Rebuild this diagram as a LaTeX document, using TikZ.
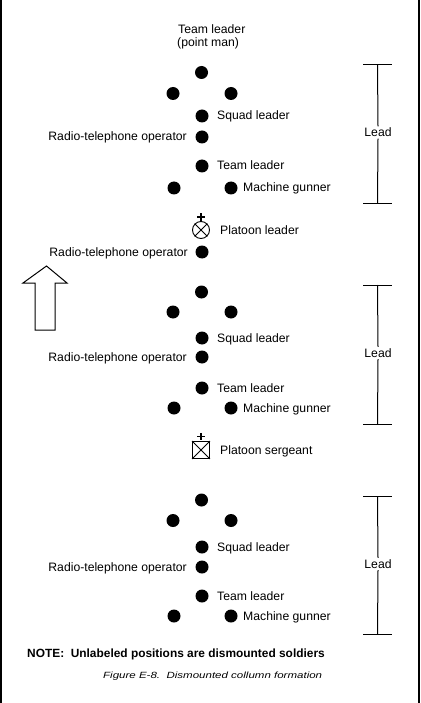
\documentclass[tikz,border=0pt]{standalone}
\usepackage{fontspec}
\setmainfont{Liberation Sans}
\begin{document}
\begin{tikzpicture}[x=1pt,y=-1pt,
  dot/.style={circle,fill=black,inner sep=0pt,minimum size=13pt},
  lbl/.style={font=\fontsize{12.2}{14}\selectfont,inner sep=0pt},
  rlbl/.style={lbl,anchor=base west},
  llbl/.style={lbl,anchor=base east},
  sym/.style={line width=0.9pt},
  plus/.style={line width=1.8pt},
  bar/.style={line width=1pt},
  leadlbl/.style={lbl,fill=white,inner sep=1.5pt}
  ]
\useasboundingbox (0,0) rectangle (420,703);
\fill (0,0) rectangle (2.3,703);
\fill (417.6,0) rectangle (420,703);

% ---------- Squad 1 ----------
\node[rlbl] (tl0) at (178,34) {Team leader};
\node[rlbl] (pm0) at (177,47) {(point man)};
\node[dot] (a1) at (201.5,72.5) {};
\node[dot] (a2) at (173,93.5) {};
\node[dot] (a3) at (231,93.5) {};
\node[dot] (a4) at (202,116) {};
\node[rlbl] (a4l) at (217,120) {Squad leader};
\node[dot] (a5) at (202,137) {};
\node[llbl] (a5l) at (187,141) {Radio-telephone operator};
\node[dot] (a6) at (202,166) {};
\node[rlbl] (a6l) at (217,170) {Team leader};
\node[dot] (a7) at (174,188) {};
\node[dot] (a8) at (231,188) {};
\node[rlbl] (a8l) at (243,192) {Machine gunner};

% ---------- Platoon leader ----------
\node[draw,circle,sym,minimum size=17pt,inner sep=0pt] (pl) at (201,230) {};
\draw[sym] (pl.north west) -- (pl.south east) (pl.north east) -- (pl.south west);
\coordinate (plp) at ([yshift=4pt]pl.north);
\draw[plus] ([yshift=3.8pt]plp) -- ([yshift=-3.8pt]plp) ([xshift=-3.8pt]plp) -- ([xshift=3.8pt]plp);
\node[rlbl] (pll) at (220,234) {Platoon leader};
\node[dot] (plr) at (202,252) {};
\node[llbl] (plrl) at (188,256) {Radio-telephone operator};

% ---------- Squad 2 ----------
\node[dot] (b1) at (201.5,292) {};
\node[dot] (b2) at (173,312) {};
\node[dot] (b3) at (231,312) {};
\node[dot] (b4) at (202,338) {};
\node[rlbl] (b4l) at (217,342) {Squad leader};
\node[dot] (b5) at (202,357) {};
\node[llbl] (b5l) at (187,361) {Radio-telephone operator};
\node[dot] (b6) at (202,388) {};
\node[rlbl] (b6l) at (217,392) {Team leader};
\node[dot] (b7) at (174,408) {};
\node[dot] (b8) at (231,408) {};
\node[rlbl] (b8l) at (243,412) {Machine gunner};

% ---------- Platoon sergeant ----------
\node[draw,rectangle,sym,minimum size=17pt,inner sep=0pt] (ps) at (201,450) {};
\draw[sym] (ps.north west) -- (ps.south east) (ps.north east) -- (ps.south west);
\coordinate (psp) at ([yshift=4.5pt]ps.north);
\draw[plus] ([yshift=3.8pt]psp) -- ([yshift=-3.8pt]psp) ([xshift=-3.8pt]psp) -- ([xshift=3.8pt]psp);
\node[rlbl] (psl) at (220,454) {Platoon sergeant};

% ---------- Squad 3 ----------
\node[dot] (c1) at (201.5,500) {};
\node[dot] (c2) at (173,520.5) {};
\node[dot] (c3) at (231,520.5) {};
\node[dot] (c4) at (202,547) {};
\node[rlbl] (c4l) at (217,551) {Squad leader};
\node[dot] (c5) at (202,567) {};
\node[llbl] (c5l) at (187,571) {Radio-telephone operator};
\node[dot] (c6) at (202,596) {};
\node[rlbl] (c6l) at (217,600) {Team leader};
\node[dot] (c7) at (174,616) {};
\node[dot] (c8) at (231,616) {};
\node[rlbl] (c8l) at (243,620) {Machine gunner};

% ---------- Lead brackets ----------
\foreach \n/\t/\m/\b in {1/64.5/132.5/203.5, 2/285/353/424, 3/496/564/634}{
  \coordinate (bt\n) at (377.5,\t);
  \coordinate (bb\n) at (377.5,\b);
  \node[leadlbl] (ld\n) at (378,\m) {Lead};
  \draw[bar] ([xshift=-14.5pt]bt\n) -- ([xshift=14.5pt]bt\n);
  \draw[bar] ([xshift=-14.5pt]bb\n) -- ([xshift=14.5pt]bb\n);
  \draw[bar] (bt\n) -- (ld\n.north);
  \draw[bar] (ld\n.south) -- (bb\n);
}

% ---------- Direction arrow ----------
\draw[line width=1pt,fill=white] (46.5,266) -- (67,283) -- (55,283) -- (55,330)
  -- (35,330) -- (35,283) -- (23,283) -- cycle;

% ---------- Notes ----------
\node[anchor=base west,inner sep=0pt,font=\bfseries\fontsize{11.9}{14}\selectfont] (note) at (27,657.5)
  {NOTE:\ \ Unlabeled positions are dismounted soldiers};
\node[anchor=base west,inner sep=0pt,font=\itshape\fontsize{9}{11}\selectfont] (cap) at (103,678)
  {\scalebox{1.28}[1]{Figure E-8.\ \ Dismounted collumn formation}};
\end{tikzpicture}
\end{document}
